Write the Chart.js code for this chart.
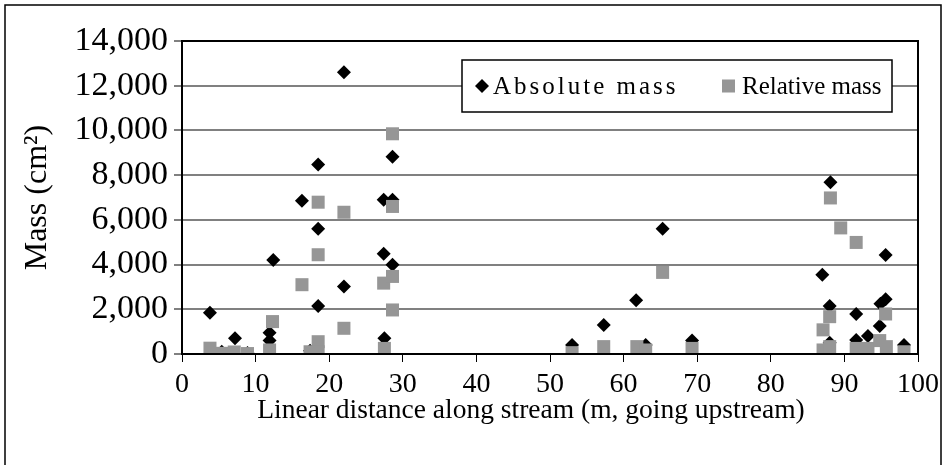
<!DOCTYPE html>
<html>
<head>
<meta charset="utf-8">
<script src="https://cdn.jsdelivr.net/npm/chart.js@4.4.1/dist/chart.umd.min.js"></script>
<style>
  html, body { margin: 0; padding: 0; background: #fff; }
</style>
</head>
<body>
<canvas id="chart1" width="946" height="465"></canvas>
<script>
// distance along the stream (m) and mass (cm2) for each sample
const absDist = [3.8, 5.4, 7.2, 8.9, 11.9, 11.9, 12.4, 16.3, 17.4, 18.5, 18.5, 18.5, 22.0, 22.0,
    27.4, 27.4, 27.5, 28.6, 28.6, 28.6, 53.0, 57.3, 61.7, 63.0, 65.3, 69.3,
    87.0, 88.1, 88.0, 88.0, 91.6, 91.6, 93.2, 94.8, 94.9, 95.6, 95.6, 98.1];
const absMass = [1850, 100, 700, 50, 950, 600, 4200, 6860, 150, 8480, 5600, 2150, 12600, 3020,
    6900, 4480, 700, 8820, 6900, 3990, 400, 1300, 2400, 400, 5600, 600,
    3540, 7680, 2150, 500, 1790, 630, 800, 1250, 2250, 2450, 4430, 400];

const relDist = [3.8, 5.4, 7.1, 8.9, 11.9, 12.3, 16.3, 17.4, 18.5, 18.5, 18.5, 18.5, 22.0, 22.0,
    27.4, 27.5, 28.6, 28.6, 28.6, 28.6, 53.0, 57.3, 61.8, 63.0, 65.3, 69.3,
    87.1, 87.1, 88.1, 88.0, 88.0, 89.5, 91.6, 91.6, 91.7, 93.2, 94.8, 95.6, 95.7, 98.1];
const relMass = [260, 30, 90, 20, 180, 1450, 3100, 100, 6790, 4440, 550, 100, 6340, 1150,
    3170, 250, 9850, 6600, 3470, 1970, 60, 330, 330, 180, 3650, 250,
    1080, 180, 6980, 1670, 330, 5640, 4990, 250, 30, 250, 600, 1790, 330, 100];

const seriesNames = ['Absolute mass', 'Relative mass'];
const xTitle = 'Linear distance along stream (m, going upstream)';
const yTitle = 'Mass (cm\u00B2)';

const serif = '"Liberation Serif", "Times New Roman", serif';
const grey = 'rgb(150,150,150)';

function toPoints(xs, ys) {
    return xs.map((x, i) => ({ x: x, y: ys[i] }));
}

// frame round the whole picture, box round the plot, x title and the legend
const decorations = {
    id: 'decorations',
    afterDraw(chart) {
        const ctx = chart.ctx;
        const a = chart.chartArea;
        ctx.save();
        ctx.strokeStyle = '#000';
        ctx.lineWidth = 1.5;
        ctx.beginPath();
        ctx.moveTo(5, 470);
        ctx.lineTo(5, 5);
        ctx.lineTo(941, 5);
        ctx.lineTo(941, 470);
        ctx.stroke();

        ctx.lineWidth = 2;
        ctx.strokeRect(a.left, a.top, a.right - a.left, a.bottom - a.top);

        // x axis title, sits a little left of the plot centre
        ctx.fillStyle = '#000';
        ctx.font = '27.5px ' + serif;
        ctx.textAlign = 'center';
        ctx.textBaseline = 'middle';
        ctx.fillText(xTitle, 531, 411);

        // legend
        const lx = 462, ly = 60, lw = 430, lh = 52;
        ctx.fillStyle = '#fff';
        ctx.fillRect(lx, ly, lw, lh);
        ctx.lineWidth = 1.5;
        ctx.strokeRect(lx, ly, lw, lh);
        const cy = ly + lh / 2;
        ctx.fillStyle = '#000';
        ctx.beginPath();
        ctx.moveTo(482, cy - 7);
        ctx.lineTo(489, cy);
        ctx.lineTo(482, cy + 7);
        ctx.lineTo(475, cy);
        ctx.closePath();
        ctx.fill();
        ctx.fillStyle = grey;
        ctx.fillRect(722, cy - 6.5, 13, 13);
        ctx.fillStyle = '#000';
        ctx.font = '25px ' + serif;
        ctx.textAlign = 'left';
        ctx.letterSpacing = '3px';
        ctx.fillText(seriesNames[0], 493, cy + 1);
        ctx.letterSpacing = '0px';
        ctx.fillText(seriesNames[1], 742, cy + 1);
        ctx.restore();
    }
};

const Chart1 = new Chart(document.getElementById('chart1'), {
    type: 'scatter',
    data: {
        datasets: [{
            label: seriesNames[0],
            data: toPoints(absDist, absMass),
            pointStyle: 'rectRot',
            pointRadius: 7,
            pointHoverRadius: 7,
            backgroundColor: '#000',
            borderWidth: 0,
            order: 2
        }, {
            label: seriesNames[1],
            data: toPoints(relDist, relMass),
            pointStyle: 'rect',
            pointRadius: 9.2,
            pointHoverRadius: 9.2,
            backgroundColor: grey,
            borderWidth: 0,
            order: 1
        }]
    },
    options: {
        responsive: false,
        animation: false,
        devicePixelRatio: 1,
        layout: {
            padding: { left: 18, top: 41, right: 28, bottom: 36 }
        },
        plugins: {
            legend: { display: false },
            tooltip: { enabled: false }
        },
        scales: {
            x: {
                type: 'linear',
                min: 0,
                max: 100,
                afterFit: (scale) => { scale.height = 75; },
                ticks: {
                    stepSize: 10,
                    autoSkip: false,
                    maxRotation: 0,
                    color: '#000',
                    padding: 6,
                    font: { family: serif, size: 28 }
                },
                grid: {
                    drawOnChartArea: false,
                    drawTicks: true,
                    tickLength: 8,
                    tickColor: '#000',
                    tickWidth: 1
                },
                border: { color: '#000', width: 2 }
            },
            y: {
                min: 0,
                max: 14000,
                afterFit: (scale) => { scale.width = 164; },
                ticks: {
                    stepSize: 2000,
                    autoSkip: false,
                    color: '#000',
                    padding: 6,
                    font: { family: serif, size: 34 },
                    callback: (v) => v.toLocaleString('en-US')
                },
                grid: {
                    color: 'rgb(128,128,128)',
                    lineWidth: 2,
                    tickLength: 8,
                    tickColor: 'rgb(128,128,128)'
                },
                border: { color: '#000', width: 2 },
                title: {
                    display: true,
                    text: yTitle,
                    color: '#000',
                    font: { family: serif, size: 32 },
                    padding: { top: 0, bottom: 0 }
                }
            }
        }
    },
    plugins: [decorations]
});
</script>
</body>
</html>
